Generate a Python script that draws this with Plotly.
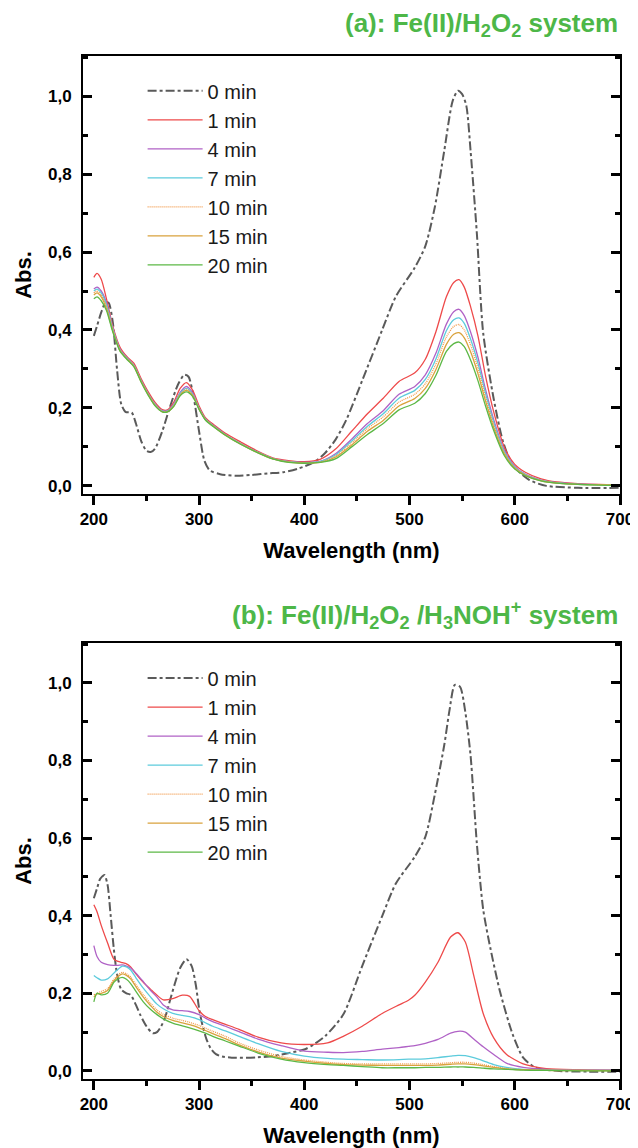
import plotly.graph_objects as go

# ---------------- data ----------------
labels = ["0 min", "1 min", "4 min", "7 min", "10 min", "15 min", "20 min"]

# Panel (a): Fe(II)/H2O2
wl_a0 = [200, 203, 207, 211, 214, 218, 222, 226, 230, 236, 240, 245, 250, 254, 258, 265, 272, 280, 286,
         290, 295, 300, 305, 310, 320, 335, 350, 365, 380, 395, 410, 420, 430, 440, 455, 474, 487, 505,
         515, 524, 533, 541, 546, 550, 554, 558, 564, 570, 580, 589, 598, 614, 630, 660, 700]
a_0min = [0.385, 0.41, 0.445, 0.47, 0.47, 0.42, 0.30, 0.21, 0.19, 0.188, 0.16, 0.115, 0.09, 0.087, 0.095,
          0.14, 0.20, 0.26, 0.285, 0.28, 0.225, 0.14, 0.065, 0.04, 0.03, 0.026, 0.028, 0.032, 0.035, 0.045,
          0.062, 0.085, 0.12, 0.17, 0.27, 0.40, 0.486, 0.56, 0.615, 0.715, 0.86, 0.988, 1.014, 1.005, 0.975,
          0.86, 0.647, 0.392, 0.223, 0.112, 0.053, 0.015, 0.0, -0.005, -0.005]

wl_a = [200, 203, 207, 212, 218, 225, 232, 238, 245, 252, 258, 265, 270, 276, 282, 288, 294, 300, 306, 315,
        325, 340, 355, 370, 385, 400, 415, 430, 445, 460, 475, 490, 505, 515, 525, 535, 542, 547, 552, 558,
        565, 572, 580, 590, 600, 610, 625, 640, 660, 680, 700]
a_1min = [0.535, 0.545, 0.53, 0.48, 0.41, 0.355, 0.33, 0.315, 0.275, 0.24, 0.215, 0.196, 0.195, 0.215, 0.25,
          0.265, 0.245, 0.205, 0.175, 0.155, 0.135, 0.112, 0.09, 0.072, 0.065, 0.062, 0.068, 0.095, 0.14,
          0.185, 0.225, 0.268, 0.29, 0.325, 0.395, 0.485, 0.522, 0.529, 0.51, 0.46, 0.385, 0.285, 0.19, 0.10,
          0.055, 0.035, 0.018, 0.010, 0.006, 0.004, 0.003]
a_4min = [0.505, 0.51, 0.50, 0.47, 0.405, 0.35, 0.327, 0.31, 0.27, 0.235, 0.21, 0.193, 0.193, 0.21, 0.24,
          0.255, 0.238, 0.20, 0.172, 0.152, 0.132, 0.108, 0.087, 0.07, 0.063, 0.06, 0.063, 0.083, 0.12, 0.16,
          0.193, 0.235, 0.255, 0.285, 0.34, 0.415, 0.447, 0.453, 0.437, 0.395, 0.33, 0.25, 0.17, 0.092, 0.05,
          0.03, 0.015, 0.008, 0.005, 0.003, 0.002]
a_7min = [0.50, 0.505, 0.495, 0.465, 0.403, 0.348, 0.326, 0.309, 0.269, 0.234, 0.209, 0.192, 0.192, 0.208,
          0.237, 0.25, 0.235, 0.199, 0.171, 0.151, 0.131, 0.107, 0.087, 0.07, 0.062, 0.059, 0.062, 0.08, 0.115,
          0.153, 0.185, 0.225, 0.245, 0.273, 0.325, 0.398, 0.426, 0.431, 0.417, 0.377, 0.315, 0.24, 0.163,
          0.088, 0.048, 0.029, 0.014, 0.008, 0.004, 0.003, 0.002]
a_10min = [0.495, 0.50, 0.49, 0.46, 0.40, 0.347, 0.325, 0.308, 0.268, 0.233, 0.208, 0.191, 0.191, 0.206,
           0.235, 0.248, 0.233, 0.198, 0.17, 0.15, 0.131, 0.107, 0.087, 0.07, 0.062, 0.059, 0.061, 0.077, 0.11,
           0.147, 0.177, 0.215, 0.235, 0.262, 0.312, 0.382, 0.409, 0.414, 0.40, 0.362, 0.302, 0.23, 0.156,
           0.085, 0.046, 0.028, 0.014, 0.007, 0.004, 0.003, 0.002]
a_15min = [0.49, 0.495, 0.485, 0.455, 0.398, 0.346, 0.324, 0.307, 0.267, 0.232, 0.207, 0.19, 0.19, 0.205,
           0.233, 0.245, 0.231, 0.197, 0.17, 0.15, 0.13, 0.106, 0.086, 0.069, 0.061, 0.058, 0.06, 0.074, 0.105,
           0.14, 0.168, 0.205, 0.224, 0.25, 0.298, 0.363, 0.389, 0.393, 0.38, 0.344, 0.288, 0.22, 0.15, 0.082,
           0.045, 0.027, 0.013, 0.007, 0.004, 0.003, 0.002]
a_20min = [0.48, 0.485, 0.475, 0.45, 0.395, 0.345, 0.323, 0.306, 0.266, 0.231, 0.206, 0.19, 0.19, 0.204,
           0.231, 0.241, 0.229, 0.196, 0.169, 0.149, 0.13, 0.106, 0.086, 0.069, 0.06, 0.058, 0.06, 0.07, 0.10,
           0.132, 0.16, 0.195, 0.212, 0.237, 0.283, 0.345, 0.365, 0.369, 0.357, 0.323, 0.27, 0.207, 0.142,
           0.078, 0.043, 0.026, 0.013, 0.007, 0.004, 0.002, 0.001]

# Panel (b): Fe(II)/H2O2/H3NOH+
wl_b0 = [200, 203, 206, 210, 213, 216, 219, 222, 226, 231, 235, 240, 244, 250, 256, 260, 264, 268, 272, 277,
         282, 288, 293, 297, 300, 303, 307, 311, 316, 322, 331, 345, 356, 370, 387, 400, 409, 420, 437, 455,
         474, 487, 505, 515, 524, 533, 538, 543, 548, 553, 558, 564, 570, 577, 586, 598, 608, 620, 640, 670,
         700]
b_0min = [0.445, 0.47, 0.495, 0.505, 0.48, 0.40, 0.314, 0.25, 0.21, 0.20, 0.196, 0.17, 0.145, 0.115, 0.097,
          0.10, 0.115, 0.14, 0.178, 0.225, 0.265, 0.288, 0.27, 0.22, 0.161, 0.12, 0.082, 0.058, 0.043, 0.037,
          0.034, 0.034, 0.035, 0.038, 0.047, 0.055, 0.068, 0.09, 0.145, 0.27, 0.399, 0.483, 0.552, 0.603,
          0.712, 0.84, 0.93, 0.995, 0.99, 0.925, 0.813, 0.585, 0.416, 0.314, 0.204, 0.094, 0.034, 0.008, 0.0,
          -0.002, -0.002]

wl_b = [200, 203, 207, 213, 219, 223, 227, 231, 235, 240, 247, 254, 260, 266, 275, 284, 291, 300, 306, 313,
        325, 338, 356, 378, 400, 422, 437, 455, 474, 490, 499, 505, 515, 527, 539, 546, 553, 561, 570, 580,
        592, 608, 630, 660, 700]
b_1min = [0.428, 0.41, 0.375, 0.33, 0.288, 0.282, 0.279, 0.276, 0.268, 0.25, 0.228, 0.21, 0.195, 0.183,
          0.186, 0.195, 0.192, 0.155, 0.14, 0.132, 0.12, 0.107, 0.087, 0.072, 0.068, 0.072, 0.089, 0.115,
          0.148, 0.17, 0.182, 0.195, 0.229, 0.28, 0.345, 0.356, 0.332, 0.246, 0.148, 0.085, 0.043, 0.018,
          0.006, 0.003, 0.002]
b_4min = [0.323, 0.295, 0.28, 0.274, 0.272, 0.272, 0.273, 0.27, 0.265, 0.252, 0.23, 0.207, 0.19, 0.17,
          0.157, 0.155, 0.153, 0.145, 0.136, 0.127, 0.115, 0.101, 0.082, 0.065, 0.051, 0.048, 0.047, 0.05,
          0.056, 0.06, 0.063, 0.065, 0.071, 0.081, 0.097, 0.102, 0.10, 0.082, 0.062, 0.042, 0.02, 0.009,
          0.004, 0.002, 0.002]
b_7min = [0.246, 0.24, 0.234, 0.237, 0.252, 0.262, 0.27, 0.268, 0.26, 0.24, 0.213, 0.19, 0.172, 0.16, 0.148,
          0.143, 0.14, 0.132, 0.124, 0.115, 0.103, 0.089, 0.07, 0.05, 0.038, 0.032, 0.03, 0.029, 0.028, 0.029,
          0.03, 0.03, 0.031, 0.034, 0.038, 0.04, 0.039, 0.034, 0.026, 0.016, 0.009, 0.004, 0.002, 0.001,
          0.001]
b_10min = [0.196, 0.20, 0.205, 0.212, 0.236, 0.247, 0.254, 0.25, 0.242, 0.222, 0.196, 0.174, 0.157, 0.146,
           0.136, 0.13, 0.125, 0.117, 0.11, 0.102, 0.089, 0.072, 0.054, 0.037, 0.028, 0.022, 0.019, 0.018,
           0.018, 0.018, 0.018, 0.018, 0.018, 0.019, 0.021, 0.022, 0.022, 0.02, 0.016, 0.011, 0.006, 0.003,
           0.002, 0.001, 0.001]
b_15min = [0.19, 0.198, 0.20, 0.207, 0.232, 0.243, 0.25, 0.246, 0.237, 0.217, 0.19, 0.168, 0.151, 0.14,
           0.13, 0.124, 0.119, 0.111, 0.104, 0.096, 0.083, 0.067, 0.049, 0.033, 0.025, 0.019, 0.016, 0.015,
           0.014, 0.014, 0.014, 0.014, 0.014, 0.015, 0.017, 0.018, 0.018, 0.016, 0.013, 0.009, 0.005, 0.003,
           0.001, 0.001, 0.0]
b_20min = [0.178, 0.20, 0.196, 0.20, 0.228, 0.237, 0.241, 0.236, 0.225, 0.205, 0.178, 0.158, 0.145, 0.134,
           0.123, 0.116, 0.111, 0.103, 0.097, 0.089, 0.077, 0.064, 0.046, 0.03, 0.021, 0.016, 0.014, 0.011,
           0.008, 0.008, 0.008, 0.008, 0.009, 0.009, 0.01, 0.01, 0.01, 0.009, 0.007, 0.005, 0.004, 0.002,
           0.001, 0.0, 0.0]

x_tick0, x_dtick, x_minor = 200, 100, 50
y_tick0, y_dtick, y_minor = 0.0, 0.2, 0.1

# ---------------- styles ----------------
colors = ["#5a5a5a", "#ee4a4a", "#b062c6", "#5ccbdc", "#f29a4a", "#d9a23c", "#5cb846"]
dashes = ["dashdot", "solid", "solid", "solid", "1px,1px", "solid", "solid"]
widths = [2.0, 1.3, 1.3, 1.3, 1.3, 1.3, 1.3]

fig = go.Figure()

panel_a = [(wl_a0, a_0min), (wl_a, a_1min), (wl_a, a_4min), (wl_a, a_7min),
           (wl_a, a_10min), (wl_a, a_15min), (wl_a, a_20min)]
panel_b = [(wl_b0, b_0min), (wl_b, b_1min), (wl_b, b_4min), (wl_b, b_7min),
           (wl_b, b_10min), (wl_b, b_15min), (wl_b, b_20min)]

for i, (xs, ys) in enumerate(panel_a):
    fig.add_trace(go.Scatter(x=xs, y=ys, mode="lines", name=labels[i],
                             line=dict(color=colors[i], width=widths[i], dash=dashes[i],
                                       shape="spline", smoothing=0.7),
                             xaxis="x", yaxis="y", legend="legend"))
for i, (xs, ys) in enumerate(panel_b):
    fig.add_trace(go.Scatter(x=xs, y=ys, mode="lines", name=labels[i],
                             line=dict(color=colors[i], width=widths[i], dash=dashes[i],
                                       shape="spline", smoothing=0.7),
                             xaxis="x2", yaxis="y2", legend="legend2"))

XR = [189.7, 700]
YR = [-0.021, 1.103]
FAM = "Liberation Sans, Arial, sans-serif"
tickfont = dict(family=FAM, size=17, color="black", weight="bold")
titlefont = dict(family=FAM, size=22, color="black", weight="bold")
MAJ_LEN, MIN_LEN, TW = 9, 5, 2.5

def xaxis_main(anchor):
    return dict(range=XR, anchor=anchor, tickmode="linear", tick0=x_tick0, dtick=x_dtick,
                ticks="outside", ticklen=MAJ_LEN, tickwidth=TW, tickcolor="#000000",
                minor=dict(tick0=x_tick0, dtick=x_minor, ticks="outside",
                           ticklen=MIN_LEN, tickwidth=TW, tickcolor="#000000"),
                showline=True, linewidth=2, linecolor="black", mirror=True,
                showgrid=False, zeroline=False, tickfont=tickfont,
                title=dict(text="Wavelength (nm)", font=titlefont, standoff=14))

def xaxis_top(anchor, over):
    return dict(range=XR, anchor=anchor, overlaying=over, side="top",
                tickmode="linear", tick0=x_tick0, dtick=x_dtick, ticks="inside", ticklen=MAJ_LEN,
                tickwidth=TW, tickcolor="#000000",
                minor=dict(tick0=x_tick0, dtick=x_minor, ticks="inside",
                           ticklen=MIN_LEN, tickwidth=TW, tickcolor="#000000"),
                showticklabels=False, showline=False, showgrid=False, zeroline=False)

def yaxis_main(anchor, dom):
    return dict(range=YR, domain=dom, anchor=anchor, tickmode="linear", tick0=y_tick0, dtick=y_dtick,
                tickformat=".1f", ticks="inside", ticklen=MAJ_LEN, tickwidth=TW, tickcolor="#000000",
                minor=dict(tick0=y_tick0, dtick=y_minor, ticks="inside",
                           ticklen=MIN_LEN, tickwidth=TW, tickcolor="#000000"),
                showline=True, linewidth=2, linecolor="black", mirror="ticks",
                showgrid=False, zeroline=False, tickfont=tickfont, ticklabelstandoff=6,
                title=dict(text="Abs.", font=titlefont, standoff=10))

legend_common = dict(font=dict(family=FAM, size=20, color="#1a1a1a"),
                     bgcolor="rgba(0,0,0,0)", borderwidth=0, xanchor="left", yanchor="top",
                     itemwidth=55, tracegroupgap=0)

fig.update_layout(
    width=638, height=1148,
    margin=dict(l=75, r=16, t=48, b=70),
    paper_bgcolor="white", plot_bgcolor="white",
    separators=",.",
    showlegend=True,
    xaxis=xaxis_main("y"),
    yaxis=yaxis_main("x", [0.5718, 1.0]),
    xaxis2=xaxis_main("y2"),
    yaxis2=yaxis_main("x2", [0.0, 0.4262]),
    xaxis3=xaxis_top("y", "x"),
    xaxis4=xaxis_top("y2", "x2"),
    legend=dict(x=0.111, y=0.985, **legend_common),
    legend2=dict(x=0.111, y=0.411, **legend_common),
)

title_font = dict(family=FAM, size=26, color="#4db748", weight="bold")
fig.add_annotation(text="(a): Fe(II)/H<sub>2</sub>O<sub>2</sub> system",
                   xref="paper", yref="paper", x=1.0, y=1.0, yshift=13, xanchor="right", yanchor="bottom",
                   showarrow=False, font=title_font)
fig.add_annotation(text="(b): Fe(II)/H<sub>2</sub>O<sub>2</sub> /H<sub>3</sub>NOH<sup>+</sup> system",
                   xref="paper", yref="paper", x=1.0, y=0.4262, yshift=8, xanchor="right", yanchor="bottom",
                   showarrow=False, font=title_font)

fig.write_html("out.html")
